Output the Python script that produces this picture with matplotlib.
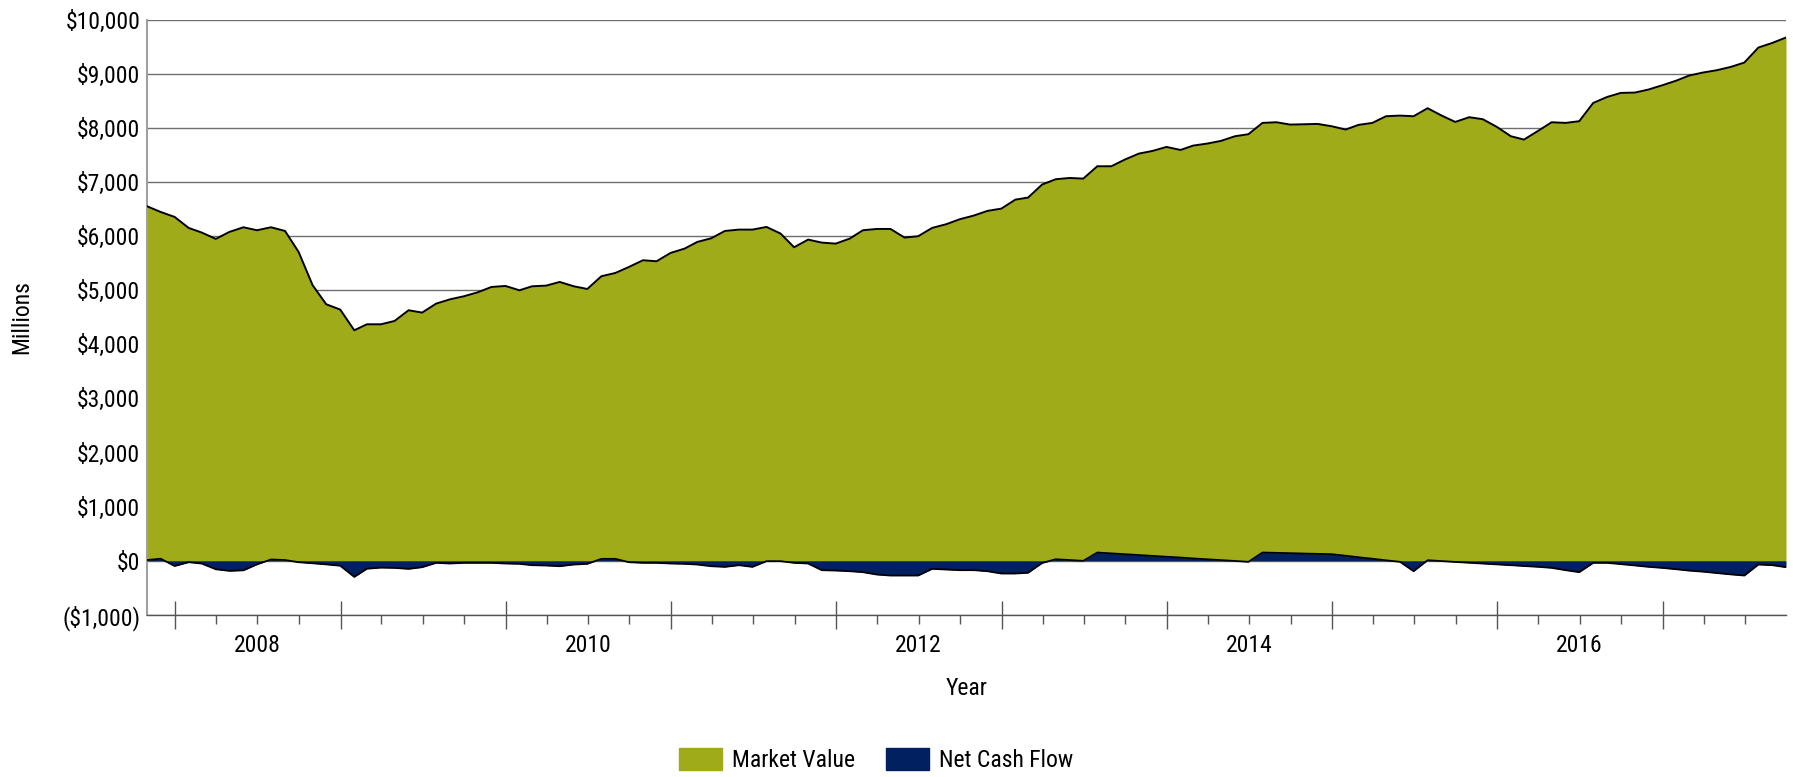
import matplotlib
matplotlib.use("Agg")
import matplotlib.pyplot as plt
import matplotlib.dates as mdates
import matplotlib.ticker as mticker
from matplotlib import font_manager
from matplotlib.patches import Patch
import pandas as pd

# month-end observations, Oct 2007 .. Sep 2017 (values in $ millions)
dates = pd.date_range("2007-10-31", periods=120, freq="ME")

market_value = [
    6550, 6445, 6353, 6150, 6064, 5947, 6076, 6162, 6107, 6162,
    6094, 5706, 5091, 4740, 4641, 4259, 4370, 4370, 4431, 4629,
    4586, 4752, 4832, 4887, 4961, 5059, 5078, 4998, 5072, 5084,
    5152, 5072, 5022, 5257, 5318, 5429, 5553, 5534, 5688, 5768,
    5891, 5959, 6094, 6119, 6119, 6168, 6046, 5793, 5934, 5879,
    5860, 5953, 6107, 6131, 6131, 5972, 5996, 6150, 6218, 6310,
    6378, 6464, 6507, 6673, 6710, 6951, 7049, 7073, 7061, 7289,
    7289, 7413, 7523, 7572, 7646, 7590, 7671, 7708, 7757, 7843,
    7881, 8090, 8102, 8059, 8065, 8071, 8028, 7967, 8053, 8090,
    8213, 8225, 8213, 8361, 8225, 8108, 8195, 8158, 8016, 7843,
    7782, 7942, 8102, 8090, 8121, 8459, 8570, 8644, 8650, 8706,
    8786, 8872, 8965, 9021, 9063, 9124, 9205, 9482, 9568, 9667,
]

net_cash_flow = [
    15, 40, -95, -25, -50, -155, -185, -175, -65, 25,
    15, -25, -45, -65, -90, -296, -145, -125, -130, -148,
    -117, -37, -49, -37, -37, -37, -49, -55, -80, -86,
    -99, -68, -55, 37, 37, -25, -37, -37, -49, -55,
    -68, -99, -111, -80, -111, -6, -6, -37, -49, -172,
    -179, -191, -209, -253, -271, -271, -271, -148, -160, -172,
    -172, -191, -234, -234, -220, -40, 30, 15, 0, 154,
    138, 123, 107, 92, 76, 61, 45, 29, 14, -2,
    -18, 154, 148, 142, 135, 129, 123, 95, 67, 39,
    10, -18, -191, 12, -4, -20, -35, -50, -65, -80,
    -95, -110, -129, -172, -209, -37, -37, -60, -85, -110,
    -130, -155, -180, -200, -225, -250, -271, -68, -80, -117,
]

year_labels = ["2008", "2010", "2012", "2014", "2016"]
series_names = ["Market Value", "Net Cash Flow"]
mv_color = "#A0AB1A"
ncf_color = "#002060"

# the original uses a narrow sans; look for one, else plain Liberation Sans
fs = 15
family = ["Liberation Sans", "DejaVu Sans"]
stretch = "normal"
preferred = ["Liberation Sans Narrow", "Arial Narrow", "Roboto Condensed",
             "Open Sans Condensed", "Noto Sans", "Open Sans", "Roboto"]
found = {}
for f in font_manager.fontManager.ttflist:
    if f.style != "normal" or f.weight not in (400, "normal", "regular"):
        continue
    narrow = ("Narrow" in f.name or "Condensed" in f.name
              or f.stretch in ("condensed", "semi-condensed", 75, 87.5))
    if narrow:
        found.setdefault(f.name, f.stretch)
for name in preferred:
    if name in found:
        family = [name, "DejaVu Sans"]
        stretch = found[name]
        fs = 17
        break
plt.rcParams["font.family"] = family
plt.rcParams["font.stretch"] = stretch

fig = plt.figure(figsize=(17.93, 7.77), dpi=100)
ax = fig.add_axes([0.082, 0.2085, 0.9141, 0.7664])

ax.fill_between(dates, 0, market_value, color=mv_color, lw=0, zorder=2)
ax.plot(dates, market_value, color="black", lw=1.4, zorder=3)
ax.fill_between(dates, 0, net_cash_flow, color=ncf_color, lw=0, zorder=4)
ax.plot(dates, net_cash_flow, color="black", lw=1.3, zorder=5)

ax.set_xlim(dates[0], dates[-1])
ax.set_ylim(-1000, 10000)

# y axis: dollar labels, gridlines behind the areas
ax.yaxis.set_major_locator(mticker.MultipleLocator(1000))
ax.yaxis.set_major_formatter(mticker.FuncFormatter(
    lambda v, p: f"(${abs(v):,.0f})" if v < 0 else f"${v:,.0f}"))
ax.grid(axis="y", color="#6e6e6e", lw=1.0, zorder=1)
ax.tick_params(axis="y", length=0, pad=4.8, labelsize=fs, colors="black")

# x axis: long ticks at year starts, short quarterly ticks, labels mid-year
ax.xaxis.set_major_locator(mdates.YearLocator())
ax.xaxis.set_major_formatter(mticker.NullFormatter())
quarters = pd.date_range("2007-10-01", "2017-09-30", freq="QS")
quarters = [q for q in quarters if q.month != 1]
ax.xaxis.set_minor_locator(mticker.FixedLocator(mdates.date2num(quarters)))

def minor_label(v, p):
    d = mdates.num2date(v)
    s = str(d.year)
    return s if (d.month == 7 and s in year_labels) else ""

ax.xaxis.set_minor_formatter(mticker.FuncFormatter(minor_label))
ax.tick_params(axis="x", which="major", direction="inout", length=20,
               width=1, color="#555555")
ax.tick_params(axis="x", which="minor", direction="out", length=6.5,
               width=1, color="#555555", pad=7.5, labelsize=fs)

for side in ["top", "right"]:
    ax.spines[side].set_visible(False)
ax.spines["left"].set_color("#a0a0a0")
ax.spines["left"].set_linewidth(1.5)
ax.spines["bottom"].set_color("#555555")
ax.spines["bottom"].set_linewidth(1.0)
ax.set_axisbelow(True)

ax.set_ylabel("Millions", fontsize=fs)
ax.yaxis.set_label_coords(-0.0765, 0.5)
ax.yaxis.label.set_va("center")
ax.set_xlabel("Year", fontsize=fs)
ax.xaxis.set_label_coords(0.5, -0.1226)
ax.xaxis.label.set_va("center")

handles = [Patch(facecolor=mv_color, edgecolor=mv_color),
           Patch(facecolor=ncf_color, edgecolor=ncf_color)]
fig.legend(handles, series_names, loc="center", ncol=2, frameon=False,
           bbox_to_anchor=(876 / 1793, 1 - 760 / 777), fontsize=fs,
           handlelength=43 / (fs * 1.389), handleheight=26 / (fs * 1.389),
           handletextpad=10 / (fs * 1.389),
           columnspacing=31 / (fs * 1.389), borderpad=0)

fig.savefig("out.png", dpi=100)
